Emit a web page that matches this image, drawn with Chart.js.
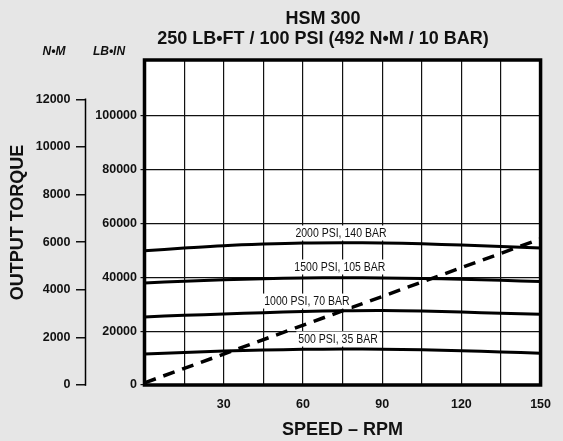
<!DOCTYPE html>
<html>
<head>
<meta charset="utf-8">
<script src="https://cdn.jsdelivr.net/npm/chart.js"></script>
<style>
  body { margin: 0; background: #e6e6e6; }
  canvas { display: block; }
</style>
</head>
<body>
<canvas id="torqueChart" width="563" height="441"></canvas>
<script>
// values (torque in LB-IN)
const speedRpm = [0, 15, 30, 45, 60, 75, 90, 105, 120, 135, 150];
const psi500  = [11500, 12100, 12600, 13000, 13250, 13350, 13300, 13100, 12750, 12300, 11800];
const psi1000 = [25300, 25900, 26400, 26900, 27300, 27600, 27700, 27500, 27100, 26700, 26300];
const psi1500 = [37900, 38600, 39100, 39500, 39750, 39850, 39800, 39600, 39300, 38900, 38500];
const psi2000 = [49900, 50900, 51800, 52400, 52800, 52900, 52800, 52500, 52000, 51500, 50900];
const limitSpeed = [0, 150];
const limitTorque = [800, 54300];
const curveNames = ['500 PSI, 35 BAR', '1000 PSI, 70 BAR', '1500 PSI, 105 BAR', '2000 PSI, 140 BAR'];
const lbinTicks = [0, 20000, 40000, 60000, 80000, 100000];
const nmTicks = [0, 2000, 4000, 6000, 8000, 10000, 12000];
const lbinMax = 120800;
const nmPerLbin = 1 / 8.8507;

function pts(xs, ys) {
  return xs.map((x, i) => ({x: x, y: ys[i]}));
}

// where the curve names sit (speed, lb-in)
const labelSpots = [[73.3, 17100], [61.5, 31200], [74.0, 43860], [74.4, 56500]];

const boldFont = 'Liberation Sans, Arial, sans-serif';

const framePlugin = {
  id: 'frame',
  beforeDraw(chart) {
    const a = chart.chartArea, c = chart.ctx;
    c.save();
    c.fillStyle = '#fff';
    c.fillRect(a.left, a.top, a.right - a.left, a.bottom - a.top);
    c.restore();
  },
  afterDatasetsDraw(chart) {
    const c = chart.ctx, xs = chart.scales.x, ys = chart.scales.y;
    const squeeze = 0.84;
    c.save();
    c.font = '12.5px ' + boldFont;
    c.textAlign = 'center';
    c.textBaseline = 'middle';
    curveNames.forEach((t, i) => {
      const px = xs.getPixelForValue(labelSpots[i][0]);
      const py = ys.getPixelForValue(labelSpots[i][1]);
      const w = c.measureText(t).width * squeeze + 4;
      c.fillStyle = '#fff';
      c.fillRect(px - w / 2, py - 7.5, w, 15);
      c.fillStyle = '#111';
      c.save();
      c.translate(px, py + 0.5);
      c.scale(squeeze, 1);
      c.fillText(t, 0, 0);
      c.restore();
    });
    c.restore();
  },
  afterDraw(chart) {
    const a = chart.chartArea, c = chart.ctx, nm = chart.scales.yNm;
    c.save();
    c.strokeStyle = '#000';
    c.lineWidth = 3.5;
    c.strokeRect(a.left, a.top, a.right - a.left, a.bottom - a.top);
    // N.M axis line, 0 to 12000 only
    c.lineWidth = 1.5;
    c.beginPath();
    c.moveTo(nm.right - 0.5, nm.getPixelForValue(0) + 0.75);
    c.lineTo(nm.right - 0.5, nm.getPixelForValue(12000) - 0.75);
    c.stroke();
    c.fillStyle = '#111';
    c.textAlign = 'center';
    c.textBaseline = 'middle';
    c.font = 'bold 18px ' + boldFont;
    c.fillText('HSM 300', 323, 19);
    c.fillText('250 LB\u2022FT / 100 PSI (492 N\u2022M / 10 BAR)', 323, 39.5);
    c.font = 'italic bold 12px ' + boldFont;
    c.fillText('N\u2022M', 54, 52);
    c.fillText('LB\u2022IN', 109, 52);
    c.restore();
  }
};

function curve(vals) {
  return {
    data: pts(speedRpm, vals),
    borderColor: '#000',
    borderWidth: 3,
    pointRadius: 0,
    tension: 0.4,
    fill: false
  };
}

const tickFont = { family: boldFont, size: 12.5, weight: 'bold' };

const ctx = document.getElementById('torqueChart').getContext('2d');
const myChart = new Chart(ctx, {
  type: 'line',
  data: {
    datasets: [
      curve(psi500), curve(psi1000), curve(psi1500), curve(psi2000),
      {
        data: pts(limitSpeed, limitTorque),
        borderColor: '#000',
        borderWidth: 3.5,
        borderDash: [12, 8],
        pointRadius: 0,
        fill: false
      }
    ]
  },
  options: {
    responsive: false,
    animation: false,
    layout: { padding: { top: 60, right: 10, left: 0, bottom: 0 } },
    plugins: { legend: { display: false }, tooltip: { enabled: false } },
    scales: {
      x: {
        type: 'linear',
        min: 0, max: 150,
        border: { display: false },
        grid: { color: '#111', lineWidth: 1.2, drawTicks: false },
        ticks: {
          stepSize: 15, autoSkip: false, maxRotation: 0, padding: 12,
          color: '#111', font: tickFont,
          callback: v => (v > 0 && v % 30 === 0) ? String(v) : ''
        },
        title: {
          display: true, text: 'SPEED \u2013 RPM', color: '#111',
          font: { family: boldFont, size: 18, weight: 'bold' },
          padding: { top: 0, bottom: 0 }
        },
        afterFit: s => { s.height = 56; }
      },
      y: {
        type: 'linear',
        position: 'left',
        weight: 0,
        min: 0, max: lbinMax,
        border: { display: false },
        grid: { color: '#111', lineWidth: 1.2, tickLength: 4 },
        ticks: {
          padding: 3.5, autoSkip: false,
          color: '#111', font: tickFont,
          callback: v => String(v)
        },
        afterBuildTicks: s => { s.ticks = lbinTicks.map(v => ({ value: v })); },
        afterFit: s => { s.width = 58.5; }
      },
      yNm: {
        type: 'linear',
        position: 'left',
        weight: 1,
        min: 0, max: lbinMax * nmPerLbin,
        border: { display: false },
        grid: { drawOnChartArea: false, color: '#111', lineWidth: 1.5, tickLength: 10 },
        ticks: {
          padding: 5.5, autoSkip: false,
          color: '#111', font: tickFont,
          callback: v => String(v)
        },
        afterBuildTicks: s => { s.ticks = nmTicks.map(v => ({ value: v })); },
        title: {
          display: true, text: 'OUTPUT TORQUE', color: '#111',
          font: { family: boldFont, size: 18, weight: 'bold' },
          padding: { top: 7.7, bottom: 0 }
        },
        afterFit: s => { s.width = 86; }
      }
    }
  },
  plugins: [framePlugin]
});
</script>
</body>
</html>
